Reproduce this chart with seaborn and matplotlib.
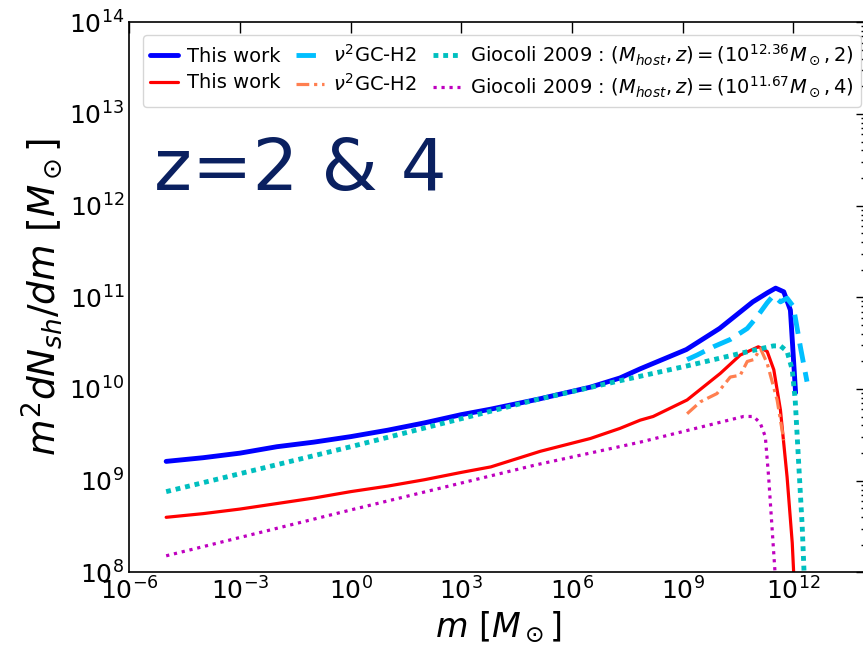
import numpy as np
import pandas as pd
import matplotlib
matplotlib.use("Agg")
import matplotlib.pyplot as plt
import seaborn as sns
from matplotlib.ticker import LogLocator, NullLocator

# log10 readings
# z = 2, This work
blue_logm = [-5, -4, -3, -2, -1, 0, 1, 2, 3, 3.8, 5.1, 6.5, 7.3, 7.85,
             9.1, 10.0, 10.9, 11.3, 11.52, 11.74, 11.92, 12.06]
blue_logy = [9.21, 9.25, 9.30, 9.37, 9.42, 9.48, 9.55, 9.63, 9.72, 9.78, 9.89, 10.02, 10.12, 10.22,
             10.43, 10.66, 10.95, 11.05, 11.10, 11.06, 10.86, 9.96]

# z = 2, nu^2GC-H2
sky_logm = [9.12, 9.39, 9.83, 10.29, 10.75, 11.02, 11.29, 11.46, 11.65, 11.83, 12.0, 12.19, 12.37]
sky_logy = [10.32, 10.37, 10.46, 10.54, 10.66, 10.79, 10.94, 11.02, 10.95, 10.99, 10.90, 10.46, 10.08]

# z = 2, Giocoli 2009
cyan_logm = [-5, 0, 5, 7.3, 9.1, 10.9, 11.46, 11.65, 11.83, 11.97, 12.05, 12.14, 12.24, 12.3]
cyan_logy = [8.88, 9.37, 9.88, 10.09, 10.25, 10.42, 10.47, 10.47, 10.41, 10.21, 9.88, 9.22, 8.5, 7.9]

# z = 4, This work
red_logm = [-5, -4, -3, -2, -1, 0, 1, 2, 3, 3.8, 5.14, 6.5, 7.3, 7.85, 8.2,
            9.12, 10.02, 10.56, 11.05, 11.29, 11.47, 11.65, 11.83, 11.97, 12.02]
red_logy = [8.60, 8.64, 8.69, 8.75, 8.81, 8.88, 8.94, 9.01, 9.09, 9.15, 9.32, 9.46, 9.57, 9.66, 9.70,
            9.88, 10.17, 10.37, 10.46, 10.41, 10.21, 9.77, 9.04, 8.32, 7.9]

# z = 4, nu^2GC-H2
coral_logm = [9.12, 9.48, 9.93, 10.29, 10.56, 10.75, 10.92, 11.11, 11.29, 11.56, 11.74]
coral_logy = [9.73, 9.86, 9.95, 10.13, 10.15, 10.30, 10.32, 10.44, 10.28, 9.88, 9.44]

# z = 4, Giocoli 2009
mag_logm = [-5, 0, 5, 7.85, 10.65, 10.92, 11.1, 11.24, 11.33, 11.42, 11.52]
mag_logy = [8.18, 8.68, 9.17, 9.42, 9.70, 9.70, 9.63, 9.48, 9.04, 8.5, 7.9]

labels = ["This work", "This work", r"$\nu^2$GC-H2", r"$\nu^2$GC-H2",
          r"Giocoli 2009 : $(M_{host}, z) = (10^{12.36}M_\odot, 2)$",
          r"Giocoli 2009 : $(M_{host}, z) = (10^{11.67}M_\odot, 4)$"]

sns.set_style("white")
plt.rcParams['font.family'] = ['DejaVu Sans']
plt.rcParams['mathtext.fontset'] = 'dejavusans'
plt.rcParams['text.color'] = 'black'
plt.rcParams['axes.labelcolor'] = 'black'
plt.rcParams['xtick.color'] = 'black'
plt.rcParams['ytick.color'] = 'black'

fig = plt.figure(figsize=(8.63, 6.48), dpi=100)
ax = fig.add_axes([0.1498, 0.1168, 0.855, 0.8488])


def draw(logm, logy, color, ls, lw, label):
    df = pd.DataFrame({"m": 10 ** np.array(logm, dtype=float),
                       "y": 10 ** np.array(logy, dtype=float)})
    sns.lineplot(data=df, x="m", y="y", ax=ax, color=color, linestyle=ls,
                 lw=lw, label=label, sort=False, estimator=None)


draw(blue_logm, blue_logy, "#0000ff", "-", 3.5, labels[0])
draw(red_logm, red_logy, "#ff0000", "-", 2.3, labels[1])
draw(sky_logm, sky_logy, "#00bfff", (0, (4, 2)), 3.5, labels[2])
draw(coral_logm, coral_logy, "#ff7f50", (0, (4, 1.5, 1, 1.5)), 2.3, labels[3])
draw(cyan_logm, cyan_logy, "#00bfbf", (0, (1, 1)), 3.5, labels[4])
draw(mag_logm, mag_logy, "#bf00bf", (0, (1, 1.5)), 2.3, labels[5])

ax.set_xscale("log")
ax.set_yscale("log")
ax.set_xlim(1e-6, 1e14)
ax.set_ylim(1e8, 1e14)
ax.set_xticks([10.0 ** k for k in range(-6, 13, 3)])
ax.xaxis.set_minor_locator(NullLocator())
ax.yaxis.set_major_locator(LogLocator(base=10, numticks=10))
ax.tick_params(which="both", direction="in", top=True, right=True, labelsize=18,
               colors="black")
ax.tick_params(which="major", length=8, width=1)
ax.tick_params(which="minor", length=4, width=1)
for s in ax.spines.values():
    s.set_linewidth(1.2)
    s.set_color("black")

ax.set_xlabel(r"$m\ [M_\odot]$", fontsize=24, color="black")
ax.set_ylabel(r"$m^2dN_{sh}/dm\ [M_\odot]$", fontsize=27, color="black")

ax.text(0.033, 0.695, "z=2 & 4", transform=ax.transAxes, fontsize=52, color="#0a2060")

handles, _ = ax.get_legend_handles_labels()
leg = ax.legend(handles, labels, ncol=3, loc="upper left", bbox_to_anchor=(0.005, 0.995),
                fontsize=14, handlelength=1.4, columnspacing=0.8, handletextpad=0.5,
                borderpad=0.4, labelspacing=0.4)
for t in leg.get_texts():
    t.set_color("black")

fig.savefig("out.png", dpi=100)
